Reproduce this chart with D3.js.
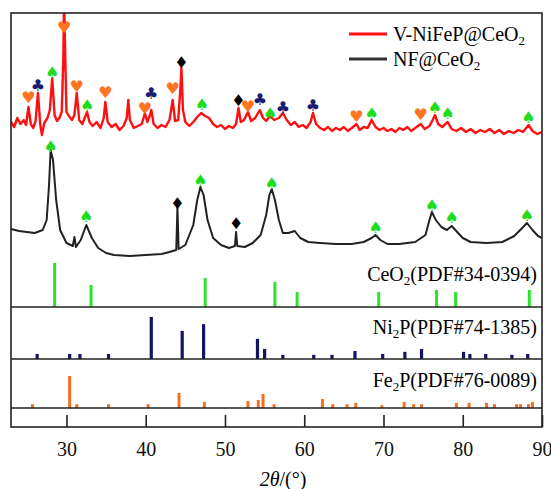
<!DOCTYPE html>
<html>
<head>
<meta charset="utf-8">
<script src="https://cdn.jsdelivr.net/npm/d3@7"></script>
<style>
  body { margin: 0; background: #fff; }
  svg text { font-family: "Liberation Serif", "Times New Roman", serif; }
</style>
</head>
<body>
<div id="chart"></div>
<script>
// measured pattern of V-NiFeP@CeO2 (2theta, intensity a.u.)
const redTheta = [23.0,23.4,23.8,24.2,24.6,24.9,25.2,25.5,25.8,26.1,26.4,26.7,26.9,27.2,27.6,27.9,28.2,28.5,28.8,29.1,29.4,29.6,29.7,29.8,30.0,30.3,30.7,31.0,31.3,31.6,32.0,32.3,32.6,32.9,33.3,33.8,34.3,34.7,34.9,35.2,35.7,36.2,36.7,37.2,37.6,37.8,38.0,38.5,39.0,39.5,39.9,40.2,40.5,40.7,41.0,41.5,42.0,42.5,43.0,43.4,43.7,44.1,44.4,44.5,44.7,45.0,45.5,46.0,46.5,47.0,47.5,48.0,48.5,49.0,49.5,50.0,50.5,51.0,51.4,51.7,52.0,52.4,52.9,53.3,53.8,54.4,54.8,55.2,55.7,56.2,56.8,57.3,57.8,58.3,58.8,59.3,59.8,60.3,60.8,61.1,61.5,62.0,62.5,63.0,63.5,64.0,64.5,65.0,65.5,66.0,66.6,67.0,67.5,68.0,68.5,69.0,69.5,70.0,70.5,71.0,71.5,72.0,72.5,73.0,73.5,74.0,74.7,75.2,75.8,76.2,76.5,76.9,77.4,78.1,78.6,79.2,79.8,80.4,81.0,81.6,82.2,82.8,83.4,84.0,84.6,85.2,85.8,86.4,87.0,87.6,88.3,88.8,89.4,90.0];
const redInt = [305,300,309,303,307,302,320,303,299,306,334,302,292,304,309,317,349,312,306,309,315,367,430,387,315,311,307,312,334,307,303,309,315,305,301,305,299,309,325,305,300,303,297,301,309,327,307,299,301,303,314,305,311,317,303,299,302,300,307,327,306,307,342,359,317,305,301,305,310,314,311,309,303,300,302,298,301,299,303,319,305,307,315,306,309,317,309,306,311,307,309,314,307,302,305,300,302,299,305,314,303,299,297,300,296,299,297,300,296,299,303,297,300,299,307,300,297,299,296,298,295,299,297,300,296,299,303,298,301,307,312,303,300,305,298,296,299,295,298,294,297,295,298,294,297,293,296,294,297,295,302,296,293,295];

// measured pattern of NF@CeO2
const blackTheta = [23.0,24.0,25.0,26.0,27.0,27.5,27.8,28.0,28.3,28.7,29.2,30.0,30.8,31.0,31.2,31.8,32.5,33.2,34.0,35.0,36.0,38.0,40.0,42.0,43.0,43.85,44.0,44.15,45.0,46.0,46.5,46.9,47.3,47.8,48.5,49.5,50.5,51.25,51.4,51.55,52.5,53.5,54.5,55.2,55.6,55.9,56.3,56.8,57.3,58.0,58.8,59.5,60.5,62.0,64.0,66.0,67.5,68.5,69.0,69.6,70.5,72.0,74.0,75.3,75.8,76.1,76.6,77.3,78.0,78.6,79.3,80.0,81.0,83.0,85.0,86.5,87.5,88.1,88.8,89.5,90.0];
const blackInt = [198,196,195,194,197,207,242,277,267,227,197,184,181,190,180,187,202,189,179,174,172,171,172,173,175,177,220,178,182,202,227,240,232,207,189,182,179,181,195,181,180,184,192,212,232,238,227,207,194,194,196,189,185,184,183,183,185,189,192,187,183,183,185,192,207,215,207,200,197,201,195,189,185,184,185,191,199,204,197,191,189];

// phase markers on each pattern
const redMarkTheta = [25.2,26.4,28.2,29.7,31.3,32.6,34.9,39.9,40.7,43.4,44.5,47.1,51.7,52.9,54.4,55.7,57.3,61.1,66.6,68.5,74.7,76.5,78.1,88.3];
const redMarkType  = ["heart","club","spade","heart","heart","spade","heart","heart","club","heart","diamond","spade","diamond","heart","club","spade","club","club","heart","spade","heart","spade","spade","spade"];
const redMarkInt   = [330,342,355,400,341,322,335,319,334,339,365,323,327,321,328,314,320,322,311,314,313,320,314,310];

const blackMarkTheta = [28.0,32.5,44.0,46.9,51.4,55.9,69.0,76.1,78.6,88.1];
const blackMarkType  = ["spade","spade","diamond","spade","diamond","spade","spade","spade","spade","spade"];
const blackMarkInt   = [281,211,224,247,204,244,200,222,210,212];

// reference cards (2theta, relative intensity %)
const ceo2Theta = [28.5,33.1,47.5,56.3,59.1,69.4,76.7,79.1,88.4];
const ceo2Int   = [100,50,66,57,34,34,39,34,39];
const ni2pTheta = [26.3,30.4,31.7,35.3,40.7,44.6,47.3,54.1,55.0,57.3,61.2,63.5,66.4,69.9,72.7,74.8,80.1,80.9,82.9,86.2,88.2];
const ni2pInt   = [12,12,12,12,100,67,83,48,24,10,10,10,19,12,17,24,17,12,12,10,12];
const fe2pTheta = [25.7,30.4,31.3,35.3,40.3,44.2,47.4,52.9,54.2,54.8,56.2,62.3,63.6,65.4,66.5,69.8,72.6,73.8,74.8,79.2,80.8,83.0,84.0,86.8,87.3,88.3,88.8];
const fe2pInt   = [12,100,12,12,12,47,19,22,25,44,12,28,12,12,16,9,19,12,12,16,16,16,12,12,12,12,19];

const xTicks = [30, 40, 50, 60, 70, 80, 90];

const width = 551;
const height = 489;
const plot = { left: 11, right: 542, top: 13, bottom: 427 };

const glyph = { heart: "\u2665", club: "\u2663", spade: "\u2660", diamond: "\u2666" };
const glyphColor = { heart: "#ff7420", club: "#1b1b72", spade: "#1fdc1f", diamond: "#000" };

const svg = d3.select("#chart")
    .append("svg")
    .attr("width", width)
    .attr("height", height);

const x = d3.scaleLinear().domain([23, 90]).range([plot.left, plot.right]);
const y = d3.scaleLinear().domain([0, 414]).range([plot.bottom, plot.top]);

svg.append("clipPath").attr("id", "clip")
    .append("rect")
    .attr("x", plot.left).attr("y", plot.top)
    .attr("width", plot.right - plot.left)
    .attr("height", plot.bottom - plot.top);

function drawPattern(thetas, ints, color, widthPx) {
    const pts = thetas.map((t, i) => [t, ints[i]]);
    const line = d3.line().x(d => x(d[0])).y(d => y(d[1]));
    svg.append("path")
        .datum(pts)
        .attr("clip-path", "url(#clip)")
        .attr("d", line)
        .attr("fill", "none")
        .attr("stroke", color)
        .attr("stroke-width", widthPx)
        .attr("stroke-linejoin", "round");
}

function drawMarkers(thetas, types, ints) {
    svg.append("g")
        .selectAll("text")
        .data(thetas.map((t, i) => ({ t, type: types[i], v: ints[i] })))
        .enter()
        .append("text")
        .attr("x", d => x(d.t))
        .attr("y", d => y(d.v))
        .attr("text-anchor", "middle")
        .attr("dominant-baseline", "central")
        .style("font-family", "DejaVu Sans")
        .style("font-size", "16px")
        .attr("fill", d => glyphColor[d.type])
        .text(d => glyph[d.type]);
}

function drawSticks(thetas, ints, base, maxH, color, w) {
    const sy = d3.scaleLinear().domain([0, 100]).range([base, base - maxH]);
    svg.append("g")
        .selectAll("line")
        .data(thetas.map((t, i) => ({ t, v: ints[i] })))
        .enter()
        .append("line")
        .attr("x1", d => x(d.t)).attr("x2", d => x(d.t))
        .attr("y1", base).attr("y2", d => sy(d.v))
        .attr("stroke", color)
        .attr("stroke-width", w);
}

// text with a subscript; the part after a subscript gets shifted back up
function subLabel(xPos, yPos, parts, anchor) {
    const t = svg.append("text")
        .attr("x", xPos).attr("y", yPos)
        .attr("text-anchor", anchor)
        .style("font-size", "20px");
    let shifted = false;
    parts.forEach(p => {
        const ts = t.append("tspan").text(p.s);
        if (p.sub) {
            ts.attr("dy", 4).style("font-size", "13px");
            shifted = true;
        } else if (shifted) {
            ts.attr("dy", -4);
            shifted = false;
        }
    });
    return t;
}

drawPattern(blackTheta, blackInt, "#222", 2);
drawPattern(redTheta, redInt, "#ff1010", 2.4);

drawMarkers(redMarkTheta, redMarkType, redMarkInt);
drawMarkers(blackMarkTheta, blackMarkType, blackMarkInt);

const ceo2Base = 307, ni2pBase = 359, fe2pBase = 408;
drawSticks(ceo2Theta, ceo2Int, ceo2Base, 44, "#2be32b", 3);
drawSticks(ni2pTheta, ni2pInt, ni2pBase, 42, "#141466", 3.2);
drawSticks(fe2pTheta, fe2pInt, fe2pBase, 32, "#f5711e", 3);

[ceo2Base, ni2pBase, fe2pBase].forEach(b => {
    svg.append("line")
        .attr("x1", plot.left).attr("x2", plot.right)
        .attr("y1", b).attr("y2", b)
        .attr("stroke", "#222").attr("stroke-width", 1.6);
});

subLabel(537, 281, [{ s: "CeO" }, { s: "2", sub: true }, { s: "(PDF#34-0394)" }], "end");
subLabel(537, 334, [{ s: "Ni" }, { s: "2", sub: true }, { s: "P(PDF#74-1385)" }], "end");
subLabel(537, 387, [{ s: "Fe" }, { s: "2", sub: true }, { s: "P(PDF#76-0089)" }], "end");

// x axis, ticks pointing inward
const xAxis = d3.axisBottom(x)
    .tickValues(xTicks)
    .tickSize(-12)
    .tickPadding(15)
    .tickFormat(d3.format("d"));
const ax = svg.append("g")
    .attr("transform", `translate(0,${plot.bottom})`)
    .call(xAxis)
    .attr("font-family", null)
    .attr("font-size", null);
ax.select(".domain").remove();
ax.selectAll(".tick line").attr("stroke", "#222").attr("stroke-width", 1.6);
ax.selectAll(".tick text")
    .style("font-family", "'Liberation Serif', serif")
    .style("font-size", "20px")
    .attr("fill", "#111");

const title = svg.append("text")
    .attr("x", 283).attr("y", 486)
    .attr("text-anchor", "middle")
    .style("font-size", "20px");
title.append("tspan").style("font-style", "italic").text("2\u03b8");
title.append("tspan").text("/(\u00b0)");

// frame
svg.append("rect")
    .attr("x", plot.left).attr("y", plot.top)
    .attr("width", plot.right - plot.left)
    .attr("height", plot.bottom - plot.top)
    .attr("fill", "none")
    .attr("stroke", "#222")
    .attr("stroke-width", 1.6);

// legend
const legend = [
    { color: "#ff1010", parts: [{ s: "V-NiFeP@CeO" }, { s: "2", sub: true }] },
    { color: "#333", parts: [{ s: "NF@CeO" }, { s: "2", sub: true }] }
];
legend.forEach((d, i) => {
    const ly = 34 + i * 25;
    svg.append("line")
        .attr("x1", 349).attr("x2", 387)
        .attr("y1", ly).attr("y2", ly)
        .attr("stroke", d.color).attr("stroke-width", 3);
    subLabel(393, ly + 7, d.parts, "start");
});
</script>
</body>
</html>
